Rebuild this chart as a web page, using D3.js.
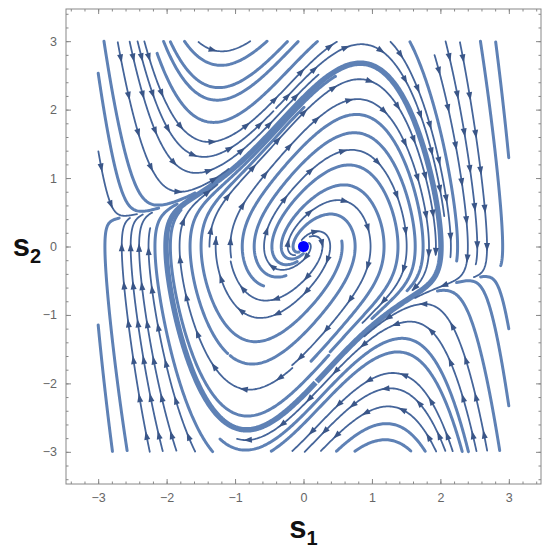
<!DOCTYPE html>
<html>
<head>
<meta charset="utf-8">
<script src="https://cdn.jsdelivr.net/npm/d3@7"></script>
<style>
  body { margin: 0; background: #fff; }
  text { font-family: "Liberation Sans", Arial, sans-serif; }
</style>
</head>
<body>
<div id="chart"></div>
<script>
// van der Pol system: s1' = s2, s2' = mu (1 - s1^2) s2 - s1
const mu = 1;
const fieldBox = [-3, 3];                 // streamlines live inside [-3,3]^2
const s1Domain = [-3.47, 3.47];
const s2Domain = [-3.47, 3.47];
const s1Ticks = [-3, -2, -1, 0, 1, 2, 3];
const s2Ticks = [-3, -2, -1, 0, 1, 2, 3];
const seedS1 = [-2.9, -2.65, -2.4, -2.15, -1.9, -1.65, -1.4, -1.15, -0.9, -0.65, -0.4, -0.15,
                0.1, 0.35, 0.6, 0.85, 1.1, 1.35, 1.6, 1.85, 2.1, 2.35, 2.6, 2.85];
const seedS2 = [2.9, 2.65, 2.4, 2.15, 1.9, 1.65, 1.4, 1.15, 0.9, 0.65, 0.4, 0.15,
                -0.1, -0.35, -0.6, -0.85, -1.1, -1.35, -1.6, -1.85, -2.1, -2.35, -2.6, -2.85];
const equilibrium = [0, 0];
const cycleStart = [2, 0];

const width = 550, height = 557;
const plot = { left: 66, top: 9, size: 475 };

const x = d3.scaleLinear().domain(s1Domain).range([plot.left, plot.left + plot.size]);
const y = d3.scaleLinear().domain(s2Domain).range([plot.top + plot.size, plot.top]);

const svg = d3.select('#chart').append('svg')
  .attr('width', width)
  .attr('height', height);

// ---------- streamline tracing ----------
function field(s1, s2) {
  return [s2, mu * (1 - s1 * s1) * s2 - s1];
}
function dir(p, sgn) {
  const f = field(p[0], p[1]);
  const m = Math.hypot(f[0], f[1]);
  if (m < 1e-9) return null;
  return [sgn * f[0] / m, sgn * f[1] / m];
}
function rk4(p, sgn, h) {
  const k1 = dir(p, sgn); if (!k1) return null;
  const k2 = dir([p[0] + h / 2 * k1[0], p[1] + h / 2 * k1[1]], sgn); if (!k2) return null;
  const k3 = dir([p[0] + h / 2 * k2[0], p[1] + h / 2 * k2[1]], sgn); if (!k3) return null;
  const k4 = dir([p[0] + h * k3[0], p[1] + h * k3[1]], sgn); if (!k4) return null;
  return [p[0] + h / 6 * (k1[0] + 2 * k2[0] + 2 * k3[0] + k4[0]),
          p[1] + h / 6 * (k1[1] + 2 * k2[1] + 2 * k3[1] + k4[1])];
}

const h = 0.02, dSep = 0.155, dTest = 0.04, maxLen = 3.2, minLen = 0.4;
const cell = dSep;
const grid = new Map();
function key(p) { return Math.floor(p[0] / cell) + ',' + Math.floor(p[1] / cell); }
function addPoints(pts) {
  pts.forEach(p => {
    const k = key(p);
    if (!grid.has(k)) grid.set(k, []);
    grid.get(k).push(p);
  });
}
function nearest(p) {
  const i = Math.floor(p[0] / cell), j = Math.floor(p[1] / cell);
  let best = Infinity;
  for (let a = -1; a <= 1; a++) for (let b = -1; b <= 1; b++) {
    const arr = grid.get((i + a) + ',' + (j + b));
    if (!arr) continue;
    for (const q of arr) best = Math.min(best, Math.hypot(p[0] - q[0], p[1] - q[1]));
  }
  return best;
}
function inside(p) {
  return p[0] >= fieldBox[0] && p[0] <= fieldBox[1] && p[1] >= fieldBox[0] && p[1] <= fieldBox[1];
}
function trace(seed, sgn) {
  const pts = [];
  let p = seed, len = 0;
  while (len < maxLen) {
    const q = rk4(p, sgn, h);
    if (!q || !inside(q)) break;
    if (Math.hypot(q[0] - equilibrium[0], q[1] - equilibrium[1]) < 0.09) break;
    if (nearest(q) < dTest) break;
    let selfHit = false;
    for (let k = 0; k < pts.length - 30; k++) {
      if (Math.hypot(q[0] - pts[k][0], q[1] - pts[k][1]) < dSep * 0.6) { selfHit = true; break; }
    }
    if (selfHit) break;
    pts.push(q);
    p = q; len += h;
  }
  return pts;
}

// limit cycle (the heavy band)
let c = cycleStart;
for (let k = 0; k < 3000; k++) c = rk4(c, 1, h);
const cycle = [c];
{
  let p = c, len = 0;
  while (true) {
    p = rk4(p, 1, h); len += h;
    cycle.push(p);
    if (len > 3 && Math.hypot(p[0] - c[0], p[1] - c[1]) < h * 1.2) break;
    if (len > 40) break;
  }
}
addPoints(cycle);

const lines = [];
// coarse pass then fine pass over seed grid
[0, 1].forEach(pass => {
  seedS2.forEach((s2, j) => {
    seedS1.forEach((s1, i) => {
      if (((i + j) % 2) !== pass) return;
      const seed = [s1, s2];
      if (nearest(seed) < dSep) return;
      if (Math.hypot(s1, s2) < 0.15) return;
      const fw = trace(seed, 1);
      const bw = trace(seed, -1);
      const pts = bw.reverse().concat([seed], fw);
      if ((pts.length - 1) * h < minLen) return;
      addPoints(pts);
      lines.push(pts);
    });
  });
});

// ---------- drawing ----------
const lineGen = d3.line().x(d => x(d[0])).y(d => y(d[1]));

svg.append('path')
  .datum(cycle)
  .attr('d', lineGen)
  .attr('fill', 'none')
  .attr('stroke', '#5e81b5')
  .attr('stroke-width', 5.5)
  .attr('stroke-linejoin', 'round');

const thick = lines.filter((d, i) => i % 2 === 0);
const thin = lines.filter((d, i) => i % 2 === 1);

svg.append('g').selectAll('path')
  .data(thick).enter().append('path')
  .attr('d', lineGen)
  .attr('fill', 'none')
  .attr('stroke', '#5e81b5')
  .attr('stroke-width', 3)
  .attr('stroke-linecap', 'round')
  .attr('stroke-linejoin', 'round');

svg.append('g').selectAll('path')
  .data(thin).enter().append('path')
  .attr('d', lineGen)
  .attr('fill', 'none')
  .attr('stroke', '#45659a')
  .attr('stroke-width', 1.8)
  .attr('stroke-linecap', 'round')
  .attr('stroke-linejoin', 'round');

// arrowheads along thin streamlines
const arrows = [];
thin.forEach(pts => {
  const px = pts.map(d => [x(d[0]), y(d[1])]);
  let acc = 0, next = 16;
  for (let k = 1; k < px.length; k++) {
    const dx = px[k][0] - px[k - 1][0], dy = px[k][1] - px[k - 1][1];
    const segLen = Math.hypot(dx, dy);
    acc += segLen;
    if (acc >= next && k < px.length - 2 && segLen > 0) {
      arrows.push({ p: px[k], d: [dx / segLen, dy / segLen] });
      next += 38;
    }
  }
});
svg.append('g').selectAll('path')
  .data(arrows).enter().append('path')
  .attr('d', a => {
    const [ux, uy] = a.d, nx = -uy, ny = ux;
    const tip = [a.p[0] + ux * 4.5, a.p[1] + uy * 4.5];
    const b1 = [a.p[0] - ux * 4 + nx * 3, a.p[1] - uy * 4 + ny * 3];
    const b2 = [a.p[0] - ux * 4 - nx * 3, a.p[1] - uy * 4 - ny * 3];
    return `M${tip}L${b1}L${b2}Z`;
  })
  .attr('fill', '#3a5688');

// equilibrium point
svg.append('circle')
  .attr('cx', x(equilibrium[0]))
  .attr('cy', y(equilibrium[1]))
  .attr('r', 5.5)
  .attr('fill', '#0000ff');

// ---------- frame and ticks ----------
const minor = d3.range(-3.4, 3.45, 0.2).map(v => Math.round(v * 10) / 10);
const bottom = plot.top + plot.size, right = plot.left + plot.size;

function frameAxis(axisFn, scale, transform, ticks, labels) {
  const g = svg.append('g').attr('transform', transform);
  g.call(axisFn(scale).tickValues(minor).tickSize(-2.5).tickFormat(''));
  const gm = svg.append('g').attr('transform', transform);
  gm.call(axisFn(scale).tickValues(ticks).tickSize(-5).tickPadding(9)
    .tickFormat(labels ? (d => d < 0 ? '\u2212' + Math.abs(d) : d) : ''));
  [g, gm].forEach(a => {
    a.select('.domain').remove();
    a.selectAll('line').attr('stroke', '#888');
    a.selectAll('text').attr('fill', '#666').style('font-size', '12.5px')
      .style('font-family', '"Liberation Sans", Arial, sans-serif');
  });
}
frameAxis(d3.axisBottom, x, `translate(0,${bottom})`, s1Ticks, true);
frameAxis(d3.axisTop, x, `translate(0,${plot.top})`, s1Ticks, false);
frameAxis(d3.axisLeft, y, `translate(${plot.left},0)`, s2Ticks, true);
frameAxis(d3.axisRight, y, `translate(${right},0)`, s2Ticks, false);

svg.append('rect')
  .attr('x', plot.left).attr('y', plot.top)
  .attr('width', plot.size).attr('height', plot.size)
  .attr('fill', 'none').attr('stroke', '#888').attr('stroke-width', 1);

// axis titles
const xt = svg.append('text')
  .attr('x', x(0)).attr('y', 538)
  .attr('text-anchor', 'middle')
  .style('font-weight', 'bold').style('font-size', '31px').attr('fill', '#111');
xt.append('tspan').text('s');
xt.append('tspan').attr('dy', 7).style('font-size', '20px').text('1');

const yt = svg.append('text')
  .attr('x', 27).attr('y', 256)
  .attr('text-anchor', 'middle')
  .style('font-weight', 'bold').style('font-size', '31px').attr('fill', '#111');
yt.append('tspan').text('s');
yt.append('tspan').attr('dy', 7).style('font-size', '20px').text('2');
</script>
</body>
</html>
